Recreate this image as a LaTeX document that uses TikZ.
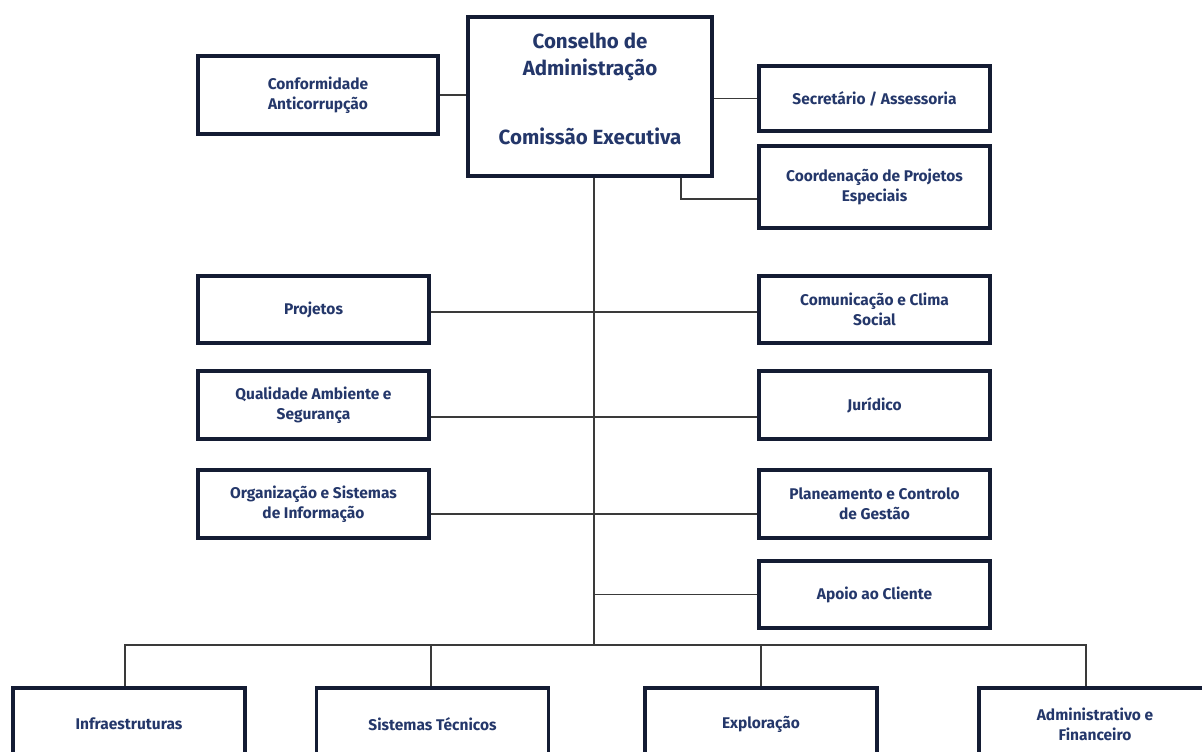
\documentclass[tikz,border=0pt]{standalone}
\usepackage{fontspec}
\setmainfont{Fira Sans}
\definecolor{navy}{HTML}{24376A}
\definecolor{boxline}{HTML}{141C33}
\definecolor{conn}{HTML}{3A3A3A}
\tikzset{
  unit/.style={draw=boxline, line width=3.3pt, text=navy, font=\fontsize{15.5}{20}\selectfont\bfseries,
    align=center, inner sep=0pt, minimum width=#1},
  unit/.default=231pt,
  link/.style={draw=conn, line width=1.6pt}
}
\begin{document}
\begin{tikzpicture}[x=1pt,y=-1pt]
\useasboundingbox (0,0) rectangle (1202,752);
\clip (0,0) rectangle (1202,752);
% top
\node[unit=244pt, minimum height=159pt] (main) at (590,96.5) {};
\node[text=navy, font=\fontsize{20.5}{27}\selectfont\bfseries, align=center, inner sep=0pt] (maintext) at (590,89)
  {Conselho de\\Administração\\[42pt]Comissão Executiva};
\node[unit=240pt, minimum height=78pt] (conf) at (318,95) {Conformidade\\Anticorrupção};
\node[unit, minimum height=65pt] (sec) at (874.5,98.5) {Secretário / Assessoria};
\node[unit, minimum height=82pt] (coord) at (874.5,187) {Coordenação de Projetos\\Especiais};
% middle left
\node[unit, minimum height=67pt] (proj) at (313.5,309.5) {Projetos};
\node[unit, minimum height=68pt] (qual) at (313.5,405) {Qualidade Ambiente e\\Segurança};
\node[unit, minimum height=68pt] (org) at (313.5,504) {Organização e Sistemas\\de Informação};
% middle right
\node[unit, minimum height=67pt] (com) at (874.5,309.5) {Comunicação e Clima\\Social};
\node[unit, minimum height=68pt] (jur) at (874.5,405) {Jurídico};
\node[unit, minimum height=68pt] (plan) at (874.5,504) {Planeamento e Controlo\\de Gestão};
\node[unit, minimum height=67pt] (apoio) at (874.5,594.5) {Apoio ao Cliente};
% bottom
\node[unit=232pt, minimum height=72pt] (infra) at (129,724) {Infraestruturas};
\node[unit=232pt, minimum height=72pt] (sist) at (432.5,724) {Sistemas Técnicos};
\node[unit=232pt, minimum height=72pt] (expl) at (761,724) {Exploração};
\node[unit=232pt, minimum height=72pt] (adm) at (1095,724) {Administrativo e\\Financeiro};
% connectors
\coordinate (bus) at (594,645);
\draw[link] (conf.east) -- (conf.east -| main.west);
\draw[link] (sec.west) -- (sec.west -| main.east);
\draw[link] ([xshift=91pt]main.south) |- ([yshift=-12pt]coord.west);
\draw[link] (main.south -| bus) -- (bus);
\draw[link] ([yshift=-2.5pt]proj.east) -- ([yshift=-2.5pt]com.west);
\draw[link] ([yshift=-12pt]qual.east) -- ([yshift=-12pt]jur.west);
\draw[link] ([yshift=-10pt]org.east) -- ([yshift=-10pt]plan.west);
\draw[link] (apoio.west) -- (apoio.west -| bus);
\draw[link] ([xshift=-4pt]infra.north) |- ([xshift=-9pt]adm.north |- bus) -- ([xshift=-9pt]adm.north);
\draw[link] ([xshift=-1.5pt]sist.north) -- ([xshift=-1.5pt]sist.north |- bus);
\draw[link] (expl.north) -- (expl.north |- bus);
\end{tikzpicture}
\end{document}
